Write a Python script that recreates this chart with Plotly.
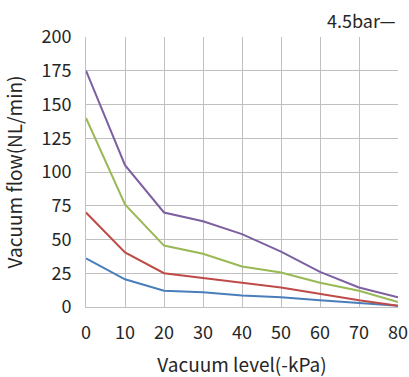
import plotly.graph_objects as go

vacuum_kpa = [0, 10, 20, 30, 40, 50, 60, 70, 80]
flow_blue = [36, 20.5, 12, 11, 8.5, 7.25, 5, 3, 1]
flow_red = [70, 40.5, 25, 21.75, 18, 14.5, 9.75, 5, 1]
flow_green = [140, 76, 45.5, 39.5, 30, 25.5, 18, 12, 3.75]
flow_purple = [175, 105, 70, 63.5, 54, 41, 26, 14.5, 7.25]

series = [
    ("s1", flow_blue, "#4A7EBB"),
    ("s2", flow_red, "#BE4B48"),
    ("s3", flow_green, "#98B954"),
    ("s4", flow_purple, "#7D60A0"),
]

FONT = "Noto Sans CJK SC"
TXT = "#262626"

fig = go.Figure()
for name, ys, col in series:
    fig.add_trace(go.Scatter(x=vacuum_kpa, y=ys, mode="lines", name=name,
                             line=dict(color=col, width=2), showlegend=False,
                             cliponaxis=False))

fig.add_annotation(text="4.5bar—", xref="paper", yref="paper", x=1.0, y=1.0,
                   xanchor="right", yanchor="bottom", yshift=2, showarrow=False,
                   font=dict(family=FONT, size=18, color=TXT))

fig.update_layout(
    width=409, height=377,
    margin=dict(l=86, r=11, t=37, b=70, autoexpand=False),
    paper_bgcolor="white", plot_bgcolor="white",
    font=dict(family=FONT, size=16, color=TXT),
    xaxis=dict(range=[0, 80], tickvals=vacuum_kpa, showgrid=True, gridcolor="#C0C0C0",
               gridwidth=1, zeroline=False, showline=True, linecolor="#C0C0C0",
               ticks="", ticklabelstandoff=9, automargin=False,
               tickfont=dict(family=FONT, size=18, color=TXT),
               title=dict(text="Vacuum level(-kPa)", standoff=21)),
    yaxis=dict(range=[0, 200], tickvals=[0, 25, 50, 75, 100, 125, 150, 175, 200],
               showgrid=True, gridcolor="#C0C0C0", gridwidth=1, zeroline=False,
               showline=True, linecolor="#C0C0C0", ticks="", ticklabelstandoff=10,
               automargin=False, tickfont=dict(family=FONT, size=18, color=TXT),
               title=dict(text="Vacuum flow(NL/min)", standoff=16)),
)

fig.write_html(
    "out.html",
    config={"displayModeBar": False},
    post_script="document.body.style.margin='0';document.body.style.overflow='hidden';",
)
